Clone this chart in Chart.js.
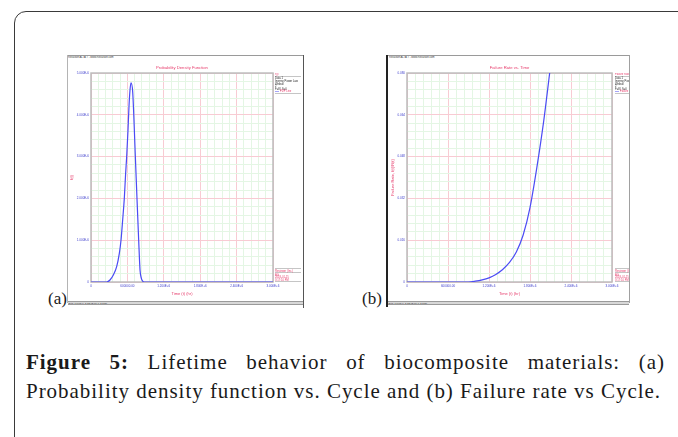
<!DOCTYPE html>
<html><head><meta charset="utf-8">
<script src="https://cdn.jsdelivr.net/npm/chart.js@4.4.1/dist/chart.umd.min.js"></script>
<style>
html,body{margin:0;padding:0;background:#fff;}
body{width:678px;height:437px;position:relative;overflow:hidden;font-family:"Liberation Serif","Times New Roman",serif;color:#1a1a1a;}
.abs{position:absolute;}
#outer{left:14px;top:11px;width:740px;height:540px;border:1.4px solid #3a3a3a;border-radius:12px;box-sizing:border-box;}
.ln{position:absolute;}
.tiny{position:absolute;overflow:hidden;font-family:"Liberation Sans",Arial,sans-serif;}
.tiny .sc{transform:scale(0.5);transform-origin:0 0;font-size:5.4px;line-height:5.2px;white-space:nowrap;width:200%;}
.r{color:#e63a6a;}
.hl{border-top:1px solid #8a8a8a;height:1px;margin:0.5px 0;}
.bl{display:inline-block;width:8px;height:1px;background:#4b4bf5;vertical-align:middle;margin-right:2px;}
.strip{position:absolute;height:2px;background:#d8d8d8;border-top:1px solid #9a9a9a;border-bottom:1px solid #9a9a9a;overflow:hidden;}
.strip .sc{transform:scale(0.5);transform-origin:0 0;font-size:4.4px;line-height:4px;white-space:nowrap;color:#333;font-family:"Liberation Sans",Arial,sans-serif;}
.lab{position:absolute;font-size:17px;line-height:17px;}
.cap{position:absolute;left:26px;font-size:21px;line-height:29px;}
canvas{position:absolute;}
</style></head>
<body>
<div id="outer" class="abs"></div>

<!-- panel (a) frame -->
<div class="ln" style="left:67px;top:55px;width:237px;height:1px;background:#9a9a9a;"></div>
<div class="ln" style="left:67px;top:55px;width:1px;height:248px;background:#b4b4b4;"></div>
<div class="ln" style="left:303px;top:55px;width:1.4px;height:253px;background:#555;"></div>
<div class="tiny" style="left:68px;top:56px;width:60px;height:3px;"><div class="sc" style="color:#333">ReliaSoft ALTA 7 - www.ReliaSoft.com</div></div>
<div class="strip" style="left:68px;top:301px;width:235px;"><div class="sc">&nbsp;Beta=1.7905; K=2.1394E-08; n=2.7130</div></div>

<!-- panel (b) frame -->
<div class="ln" style="left:387px;top:55px;width:243px;height:1px;background:#9a9a9a;"></div>
<div class="ln" style="left:386px;top:55px;width:1.6px;height:252px;background:#222;"></div>
<div class="ln" style="left:629px;top:55px;width:1px;height:248px;background:#a0a0a0;"></div>
<div class="tiny" style="left:389px;top:56px;width:60px;height:3px;"><div class="sc" style="color:#333">ReliaSoft ALTA 7 - www.ReliaSoft.com</div></div>
<div class="strip" style="left:388px;top:301px;width:241px;"><div class="sc">&nbsp;Beta=1.7905; K=2.1394E-08; n=2.7130</div></div>

<canvas id="chartA" width="235" height="246" style="left:68px;top:56px;width:235px;height:246px;"></canvas>
<canvas id="chartB" width="241" height="246" style="left:388px;top:56px;width:241px;height:246px;"></canvas>

<!-- legends (a) -->
<div class="tiny" style="left:275px;top:73px;width:26px;height:26px;">
 <div class="sc">
  <div class="r">f(t)</div><div class="hl"></div>
  <div>Data 1</div><div>Inverse Power Law</div><div>Weibull</div><div>2</div>
  <div>F=8 | S=0</div>
  <div class="r"><span class="bl"></span>PDF Line</div><div class="hl"></div>
 </div>
</div>
<div class="tiny" style="left:275px;top:267px;width:26px;height:15px;">
 <div class="sc">
  <div class="hl"></div>
  <div class="r">Reviewer (Inc.)</div><div class="hl"></div>
  <div class="r">BG</div><div class="r">2018-01-15</div><div class="r">3:17:10 PM</div><div class="hl"></div>
 </div>
</div>
<!-- legends (b) -->
<div class="tiny" style="left:615px;top:73px;width:14px;height:26px;">
 <div class="sc">
  <div class="r">Failure Rate</div><div class="hl"></div>
  <div>Data 1</div><div>Inverse Power Law</div><div>Weibull</div><div>2</div>
  <div>F=8 | S=0</div>
  <div class="r"><span class="bl"></span>Failure Rate Line</div><div class="hl"></div>
 </div>
</div>
<div class="tiny" style="left:615px;top:267px;width:14px;height:15px;">
 <div class="sc">
  <div class="hl"></div>
  <div class="r">Reviewer (Inc.)</div><div class="hl"></div>
  <div class="r">BG</div><div class="r">2018-01-15</div><div class="r">3:17:10 PM</div><div class="hl"></div>
 </div>
</div>

<div class="lab" style="left:48px;top:290px;">(a)</div>
<div class="lab" style="left:362px;top:290px;">(b)</div>

<div id="cap1" class="cap" style="top:348px;width:639px;text-align:justify;text-align-last:justify;"><b>Figure 5:</b> Lifetime behavior of biocomposite materials: (a)</div>
<div id="cap2" class="cap" style="top:377px;white-space:nowrap;">Probability density function vs. Cycle and (b) Failure rate vs Cycle.</div>

<script>
// ---- data ----
const xTickValues = [0, 600000, 1200000, 1800000, 2400000, 3000000];
const xTickLabels = ['0', '600000.00', '1.200E+6', '1.800E+6', '2.400E+6', '3.000E+6'];

const pdfTickValues = [0, 1e-6, 2e-6, 3e-6, 4e-6, 5e-6];
const pdfTickLabels = ['0', '1.000E-6', '2.000E-6', '3.000E-6', '4.000E-6', '5.000E-6'];

const rateTickValues = [0, 0.016, 0.032, 0.048, 0.064, 0.080];
const rateTickLabels = ['0', '0.016', '0.032', '0.048', '0.064', '0.080'];

const pdfTime  = [0, 258000, 313000, 368000, 423000, 467000, 495000, 522000, 549000, 571000, 588000, 610000, 626000, 643000, 659000, 687000, 731000, 758000, 786000, 808000, 830000, 852000, 874000, 3000000];
const pdfValue = [0, 0, 0.048e-6, 0.167e-6, 0.367e-6, 0.686e-6, 1.005e-6, 1.483e-6, 2.001e-6, 2.599e-6, 2.998e-6, 3.636e-6, 4.194e-6, 4.593e-6, 4.768e-6, 4.553e-6, 3.0e-6, 2.0e-6, 1.0e-6, 0.287e-6, 0.088e-6, 0.02e-6, 0, 0];

const rateTime  = [0, 900000, 1000000, 1100000, 1200000, 1300000, 1400000, 1500000, 1600000, 1700000, 1800000, 1900000, 2000000, 2088000];
const rateValue = [0, 0, 0.0003, 0.0008, 0.0016, 0.0029, 0.0048, 0.0075, 0.0115, 0.0180, 0.0285, 0.0438, 0.0615, 0.080];

// ---- styles ----
const FONT = '"Liberation Sans", Arial, sans-serif';
const RED = '#e63a6a';
const TICK = '#3d3dcc';
const MAJOR = '#f8cbd3';
const MINOR = '#e4f6e4';
const LINE = '#4b4bf5';

function withMinor(majors, n) {
  const out = [];
  for (let i = 0; i < majors.length - 1; i++)
    for (let k = 0; k < n; k++) out.push(majors[i] + (majors[i + 1] - majors[i]) * k / n);
  out.push(majors[majors.length - 1]);
  return out;
}

const areaBorder = {
  id: 'areaBorder',
  beforeDatasetsDraw(chart) {
    const a = chart.chartArea, c = chart.ctx;
    c.save();
    c.strokeStyle = '#bcbcbc';
    c.lineWidth = 1.5;
    c.strokeRect(a.left, a.top, a.right - a.left, a.bottom - a.top);
    c.restore();
  }
};

function makeChart(id, xs, ys, yTicks, yLabels, title, yTitle, yWidth, padRight, yTitlePad) {
  new Chart(document.getElementById(id), {
    type: 'line',
    data: { datasets: [{ data: xs.map((x, i) => ({ x: x, y: ys[i] })), borderColor: LINE, borderWidth: 1.2, pointRadius: 0, cubicInterpolationMode: 'monotone', fill: false }] },
    options: {
      responsive: false, animation: false, devicePixelRatio: 1,
      layout: { padding: { left: 0, right: padRight, top: 0, bottom: 0 } },
      plugins: {
        legend: { display: false }, tooltip: { enabled: false },
        title: { display: true, fullSize: false, text: title, color: RED, font: { size: 4.2, family: FONT, weight: 'normal' }, padding: { top: 9, bottom: 3 } }
      },
      scales: {
        x: {
          type: 'linear', min: xTickValues[0], max: xTickValues[xTickValues.length - 1],
          afterBuildTicks: s => { s.ticks = withMinor(xTickValues, 5).map(v => ({ value: v })); },
          afterFit: s => { s.height = 20; },
          grid: { color: c => (c.index % 5 === 0 ? MAJOR : MINOR), lineWidth: 1, drawTicks: false },
          border: { display: false },
          ticks: { autoSkip: false, maxRotation: 0, padding: 2, color: TICK, font: { size: 3, family: FONT }, callback: (v, i) => (i % 5 === 0 ? xTickLabels[i / 5] : '') },
          title: { display: true, text: 'Time (t) (hr)', color: RED, font: { size: 4, family: FONT }, padding: { top: 0, bottom: 5.6 } }
        },
        y: {
          type: 'linear', min: yTicks[0], max: yTicks[yTicks.length - 1],
          afterBuildTicks: s => { s.ticks = withMinor(yTicks, 5).map(v => ({ value: v })); },
          afterFit: s => { s.width = yWidth; },
          grid: { color: c => (c.index % 5 === 0 ? MAJOR : MINOR), lineWidth: 1, drawTicks: false },
          border: { display: false },
          ticks: { autoSkip: false, padding: 2, color: TICK, font: { size: 3, family: FONT }, callback: (v, i) => (i % 5 === 0 ? yLabels[i / 5] : '') },
          title: { display: true, text: yTitle, color: RED, font: { size: 4, family: FONT }, padding: { top: yTitlePad, bottom: 0 } }
        }
      }
    },
    plugins: [areaBorder]
  });
}

makeChart('chartA', pdfTime, pdfValue, pdfTickValues, pdfTickLabels, 'Probability Density Function', 'f(t)', 23, 30, 1);
makeChart('chartB', rateTime, rateValue, rateTickValues, rateTickLabels, 'Failure Rate vs. Time', 'Failure Rate, f(t)/R(t)', 19, 17, 2);

// stretch caption lines to the measured widths of the reference
(function () {
  const c2 = document.getElementById('cap2');
  const w = c2.getBoundingClientRect().width;
  const n = c2.textContent.length;
  const ls = (635 - w) / n;
  c2.style.letterSpacing = ls + 'px';
  document.getElementById('cap1').style.letterSpacing = ls + 'px';
})();
</script>
</body></html>
